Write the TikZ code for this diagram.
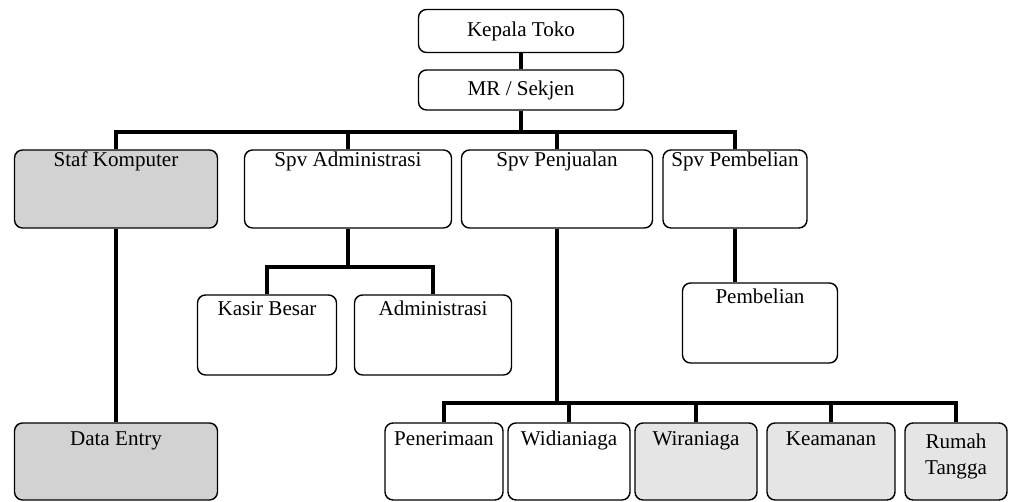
\documentclass[tikz,border=0pt]{standalone}
\usepackage{fontspec}
\setmainfont{Liberation Serif}
\usetikzlibrary{positioning}
\begin{document}
\begin{tikzpicture}[
        x=0.02cm, y=-0.02cm,
        unit/.style={draw, rounded corners=0.16cm, line width=0.8pt, inner xsep=2pt, inner ysep=0pt, align=center, font=\fontsize{12}{15}\selectfont},
        link/.style={line width=2pt}
    ]
        \useasboundingbox (0,0) rectangle (1009,502);

        \node[unit, minimum width=4.1cm, minimum height=0.86cm] (kepala) at (521,31) {Kepala Toko};
        \node[unit, minimum width=4.1cm, minimum height=0.8cm] (mr) at (521,90) {MR / Sekjen};

        \foreach \name/\x/\w/\tone/\txt in {staf/116/4.06/gray!35/Staf Komputer, spvadm/348/4.14/white/Spv Administrasi, spvjual/557/3.82/white/Spv Penjualan, spvbeli/735/2.88/white/Spv Pembelian} {
            \node[unit, fill=\tone, minimum width=\w cm, text height=0.34cm, text depth=1.22cm] (\name) at (\x,189) {\txt};
        }

        \foreach \name/\x/\w/\txt in {kasir/267/2.78/Kasir Besar, admin/433/3.14/Administrasi} {
            \node[unit, minimum width=\w cm, text height=0.42cm, text depth=1.18cm] (\name) at (\x,335) {\txt};
        }
        \node[unit, minimum width=3.1cm, text height=0.42cm, text depth=1.18cm] (beli) at (760,323) {Pembelian};

        \foreach \name/\x/\w/\tone/\txt in {entry/116/4.06/gray!35/Data Entry, terima/444/2.36/white/Penerimaan, widia/569/2.44/white/Widianiaga, wira/696/2.44/gray!20/Wiraniaga, aman/831/2.56/gray!20/Keamanan} {
            \node[unit, fill=\tone, minimum width=\w cm, text height=0.46cm, text depth=1.08cm] (\name) at (\x,461.5) {\txt};
        }
        \node[unit, fill=gray!20, minimum width=2.04cm, text height=1.03cm, text depth=0.51cm] (rumah) at (956,461.5) {Rumah\\Tangga};

        % garis struktur
        \coordinate (bus1) at (0,132);
        \coordinate (bus2) at (0,267);
        \coordinate (bus3) at (0,403);

        \draw[link] (kepala) -- (mr);
        \draw[link] (mr.south) -- (mr.south |- bus1);
        \draw[link] (staf.north) |- (bus1 -| spvbeli.north) -- (spvbeli.north);
        \foreach \n in {spvadm, spvjual} {
            \draw[link] (\n.north) -- (\n.north |- bus1);
        }

        \draw[link] (staf) -- (entry);

        \draw[link] (spvadm.south) -- (spvadm.south |- bus2);
        \draw[link] (kasir.north) |- (bus2 -| admin.north) -- (admin.north);

        \draw[link] (spvbeli.south) -- (spvbeli.south |- beli.north);

        \draw[link] (spvjual.south) -- (spvjual.south |- bus3);
        \draw[link] (terima.north) |- (bus3 -| rumah.north) -- (rumah.north);
        \foreach \n in {widia, wira, aman} {
            \draw[link] (\n.north) -- (\n.north |- bus3);
        }
    \end{tikzpicture}
\end{document}
